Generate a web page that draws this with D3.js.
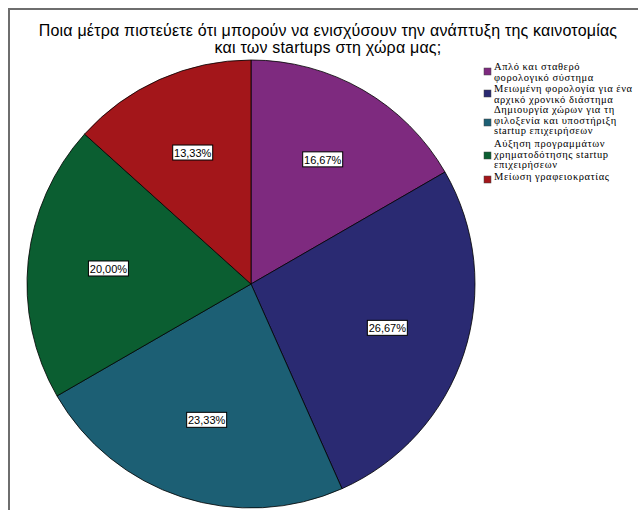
<!DOCTYPE html>
<html>
<head>
<meta charset="utf-8">
<script src="https://cdn.jsdelivr.net/npm/d3@7"></script>
<style>
  body { margin: 0; background: #fff; }
  svg { display: block; }
</style>
</head>
<body>
<script>
// data
var categories = [
  ["Απλό και σταθερό", "φορολογικό σύστημα"],
  ["Μειωμένη φορολογία για ένα", "αρχικό χρονικό διάστημα"],
  ["Δημιουργία χώρων για τη", "φιλοξενία και υποστήριξη", "startup επιχειρήσεων"],
  ["Αύξηση προγραμμάτων", "χρηματοδότησης startup", "επιχειρήσεων"],
  ["Μείωση γραφειοκρατίας"]
];
var percents = [16.67, 26.67, 23.33, 20.00, 13.33];
var labels = ["16,67%", "26,67%", "23,33%", "20,00%", "13,33%"];
var colors = ["#7e2a7f", "#2a2a72", "#1c5f74", "#0b5e31", "#a3161a"];
var titleLines = ["Ποια μέτρα πιστεύετε ότι μπορούν να ενισχύσουν την ανάπτυξη της καινοτομίας",
                  "και των startups στη χώρα μας;"];

var width = 638, height = 510;
var cx = 251, cy = 284, radius = 224;

var svg = d3.select("body")
            .append("svg")
            .attr("width", width)
            .attr("height", height);

// frame
svg.append("path")
   .attr("d", "M9,510 V9 H638")
   .attr("fill", "none")
   .attr("stroke", "#6e6e6e")
   .attr("stroke-width", 2);

// title
svg.selectAll(".title")
   .data(titleLines)
   .enter()
   .append("text")
   .attr("class", "title")
   .attr("x", 328)
   .attr("y", function(d, i) { return 36 + i * 17; })
   .attr("text-anchor", "middle")
   .style("font-family", "Liberation Sans, Arial, sans-serif")
   .style("font-size", "16px")
   .style("letter-spacing", "0.2px")
   .text(function(d) { return d; });

// pie
var pie = d3.pie().sort(null).value(function(d) { return d; });
var arcs = pie(percents);
var arc = d3.arc().innerRadius(0).outerRadius(radius);
var labelArc = d3.arc().innerRadius(radius * 0.64).outerRadius(radius * 0.64);

var g = svg.append("g")
           .attr("transform", "translate(" + cx + "," + cy + ")");

g.selectAll("path")
 .data(arcs)
 .enter()
 .append("path")
 .attr("d", arc)
 .attr("fill", function(d, i) { return colors[i]; })
 .attr("stroke", "#000")
 .attr("stroke-width", 0.8);

// value labels
var lab = g.selectAll(".lab")
           .data(arcs)
           .enter()
           .append("g")
           .attr("class", "lab")
           .attr("transform", function(d) { return "translate(" + labelArc.centroid(d) + ")"; });

lab.append("rect")
   .attr("x", -20)
   .attr("y", -8)
   .attr("width", 40)
   .attr("height", 15)
   .attr("fill", "#fff")
   .attr("stroke", "#000")
   .attr("stroke-width", 1);

lab.append("text")
   .attr("text-anchor", "middle")
   .attr("y", 4)
   .style("font-family", "Liberation Sans, Arial, sans-serif")
   .style("font-size", "11px")
   .text(function(d, i) { return labels[i]; });

// legend
var firstBase = [70, 92, 113, 147, 180];
var swatchY = [68, 90, 119, 152, 176];

var legend = svg.append("g");
categories.forEach(function(lines, i) {
  legend.append("rect")
        .attr("x", 484)
        .attr("y", swatchY[i])
        .attr("width", 7)
        .attr("height", 7)
        .attr("fill", colors[i])
        .attr("stroke", "#444")
        .attr("stroke-width", 0.5);
  lines.forEach(function(t, j) {
    legend.append("text")
          .attr("x", 494)
          .attr("y", firstBase[i] + j * 10.5)
          .style("font-family", "Liberation Serif, Times New Roman, serif")
          .style("font-size", "10.5px")
          .style("letter-spacing", "0.55px")
          .text(t);
  });
});
</script>
</body>
</html>
